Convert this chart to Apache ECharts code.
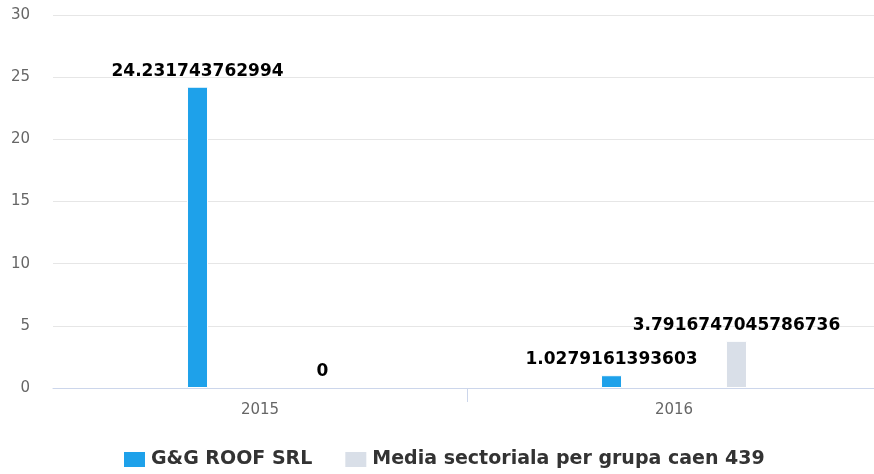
<!DOCTYPE html>
<html>
<head>
<meta charset="utf-8">
<script src="https://cdn.jsdelivr.net/npm/echarts@6/dist/echarts.min.js"></script>
<style>
  html, body { margin: 0; padding: 0; background: #fff; overflow: hidden; }
  #chart { width: 881px; height: 474px; }
</style>
</head>
<body>
<div id="chart"></div>
<script>
// Years on the category axis
const years = ['2015', '2016'];
// Company values and the sector average per year
const companyName = 'G&G ROOF SRL';
const companyValues = [24.231743762994, 1.0279161393603];
const sectorName = 'Media sectoriala per grupa caen 439';
const sectorValues = [0, 3.7916747045786736];
// Value axis ticks
const yMin = 0, yMax = 30, yStep = 5;

const font = "'DejaVu Sans', sans-serif";
const chart = echarts.init(document.getElementById('chart'), null, { renderer: 'canvas' });

const labelStyle = {
  show: true,
  position: 'top',
  distance: 7,
  color: '#000',
  fontFamily: font,
  fontWeight: 'bold',
  fontSize: 17,
  formatter: p => String(p.value)
};

chart.setOption({
  animation: false,
  grid: { left: 53, right: 0, top: 15, bottom: 86, containLabel: false },
  legend: {
    bottom: 5,
    left: 122,
    padding: 0,
    itemWidth: 23,
    itemHeight: 17,
    itemGap: 31,
    icon: 'rect',
    textStyle: { fontFamily: font, fontWeight: 'bold', fontSize: 19, color: '#333' },
    data: [companyName, sectorName]
  },
  xAxis: [
    {
      type: 'category',
      data: years,
      z: 5,
      axisLine: { lineStyle: { color: '#ccd6eb', width: 1 } },
      axisTick: { show: false },
      axisLabel: { color: '#666', fontFamily: font, fontSize: 15, margin: 15 }
    },
    {
      // divider tick between the two year groups
      type: 'value',
      position: 'bottom',
      min: 0, max: years.length, interval: 1,
      axisLine: { show: false },
      axisLabel: { show: false },
      splitLine: { show: false },
      axisTick: { show: true, length: 14, customValues: [1], lineStyle: { color: '#ccd6eb' } }
    }
  ],
  yAxis: {
    type: 'value',
    min: yMin, max: yMax, interval: yStep,
    axisLine: { show: false },
    axisTick: { show: false },
    axisLabel: { color: '#666', fontFamily: font, fontSize: 15, margin: 23 },
    splitLine: { lineStyle: { color: '#e6e6e6', width: 1 } }
  },
  series: [
    {
      name: companyName,
      type: 'bar',
      data: companyValues,
      barWidth: 21,
      barGap: '495%',
      itemStyle: { color: '#1ea1ea', borderColor: '#fff', borderWidth: 1 },
      label: labelStyle
    },
    {
      name: sectorName,
      type: 'bar',
      data: sectorValues,
      barWidth: 21,
      itemStyle: { color: '#d9dfe8', borderColor: '#fff', borderWidth: 1 },
      label: labelStyle
    }
  ]
});
</script>
</body>
</html>
